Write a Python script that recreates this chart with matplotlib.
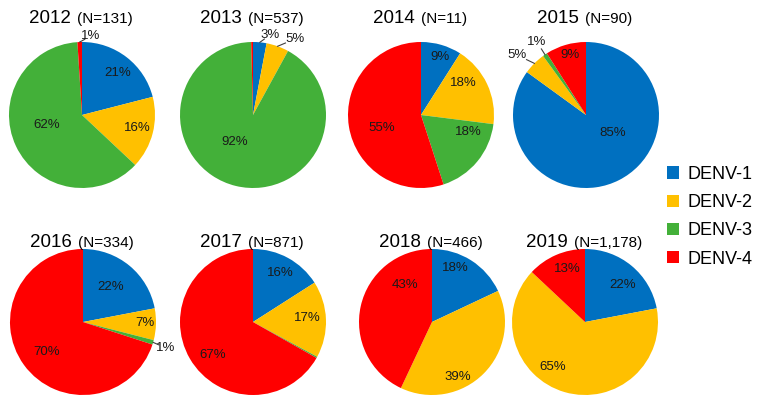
import matplotlib
matplotlib.use("Agg")
import matplotlib.pyplot as plt
from matplotlib.patches import Patch
import numpy as np

plt.rcParams['font.family'] = ['Liberation Sans', 'DejaVu Sans']

# ---------------- data ----------------
years = ["2012", "2013", "2014", "2015", "2016", "2017", "2018", "2019"]
n_cases = ["131", "537", "11", "90", "334", "871", "466", "1,178"]
serotypes = ["DENV-1", "DENV-2", "DENV-3", "DENV-4"]
denv1 = [21, 3, 9, 85, 22, 16, 18, 22]
denv2 = [16, 5, 18, 5, 7, 17, 39, 65]
denv3 = [62, 92, 18, 1, 1, 0.3, 0, 0]
denv4 = [1, 0.4, 55, 9, 70, 67, 43, 13]

# ---------------- style / layout ----------------
colors = ["#0070C0", "#FFC000", "#43B039", "#FF0000"]
W, H = 767, 408
R = 73
centers = [(82, 115), (253, 115), (421, 115), (586, 115),
           (83, 322), (253, 322), (432, 322), (585, 322)]
title_base = [23, 23, 23, 23, 247, 247, 247, 247]
# label offsets (px, from pie centre, y downward) per pie, per serotype
label_off = [
    [(36, -42), (55, 13), (-35, 10), (9, -79)],
    [(17, -80), (42, -76), (-18, 27), None],
    [(19, -58), (42, -32), (47, 17), (-39, 13)],
    [(27, 18), (-69, -60), (-49, -73), (-16, -60)],
    [(28, -35), (62, 1), (83, 26), (-36, 30)],
    [(27, -49), (54, -4), None, (-40, 33)],
    [(23, -54), (26, 55), None, (-27, -37)],
    [(38, -37), (-32, 45), None, (-18, -53)],
]

fig = plt.figure(figsize=(W / 100, H / 100), dpi=100)
ax = fig.add_axes([0, 0, 1, 1])

for i in range(len(years)):
    vals = [denv1[i], denv2[i], denv3[i], denv4[i]]
    cx, cy = centers[i]
    wedges, _ = ax.pie(vals, colors=colors, startangle=90, counterclock=False,
                       center=(cx, H - cy), radius=R, frame=True,
                       wedgeprops=dict(linewidth=0, antialiased=True))
    for j, (w, v) in enumerate(zip(wedges, vals)):
        off = label_off[i][j]
        if v < 1 or off is None:
            continue
        lx, ly = cx + off[0], H - (cy + off[1])
        ax.text(lx, ly, f"{v:.0f}%", ha="center", va="center",
                fontsize=9.5, color="#1a1a1a")
        if np.hypot(*off) > R:
            mid = np.deg2rad((w.theta1 + w.theta2) / 2)
            ex, ey = cx + R * np.cos(mid), H - cy + R * np.sin(mid)
            tx, ty = ex + 0.45 * (lx - ex), ey + 0.45 * (ly - ey)
            ax.plot([ex, tx], [ey, ty], color="#404040", lw=0.8)

ax.set_xlim(0, W)
ax.set_ylim(0, H)
ax.set_aspect("equal")
ax.axis("off")

# titles
fig.canvas.draw()
renderer = fig.canvas.get_renderer()
for i in range(len(years)):
    cx, cy = centers[i]
    t1 = ax.text(0, 0, years[i], fontsize=13.5, va="baseline", ha="left")
    t2 = ax.text(0, 0, f"(N={n_cases[i]})", fontsize=11, va="baseline", ha="left")
    w1 = t1.get_window_extent(renderer).width
    w2 = t2.get_window_extent(renderer).width
    gap = 6
    total = w1 + gap + w2
    x0 = cx - 1 - total / 2
    t1.set_position((x0, H - title_base[i]))
    t2.set_position((x0 + w1 + gap, H - title_base[i]))

handles = [Patch(facecolor=c, edgecolor="none") for c in colors]
ax.legend(handles, serotypes, loc="upper left",
          bbox_to_anchor=(667 / W, 1 - 166 / H), frameon=False,
          fontsize=13, handlelength=0.68, handleheight=0.68,
          handletextpad=0.45, labelspacing=0.62, borderpad=0,
          borderaxespad=0)

fig.savefig("out.png", dpi=100)
